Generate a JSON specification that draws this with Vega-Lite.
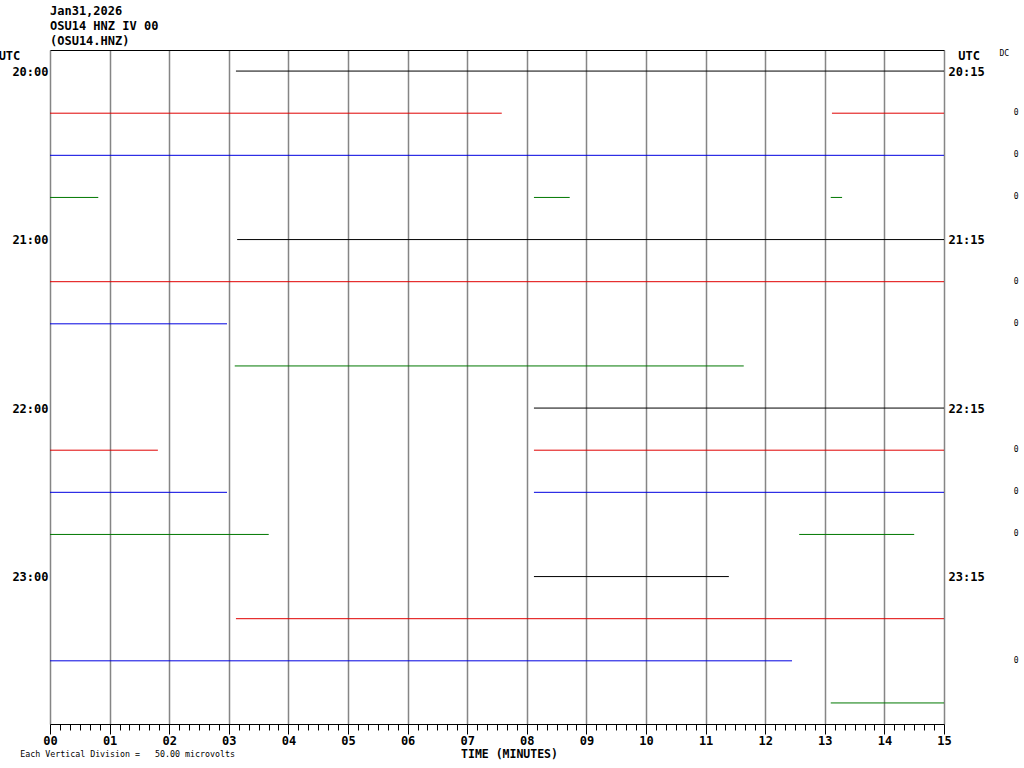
{
  "$schema": "https://vega.github.io/schema/vega-lite/v6.json",
  "autosize": {"type": "none"},
  "width": 894,
  "height": 674,
  "padding": {"left": 50, "top": 50, "right": 80, "bottom": 44},
  "background": "white",
  "config": {"view": {"stroke": null}, "font": "DejaVu Sans Mono"},
  "title": {
    "text": "Jan31,2026",
    "subtitle": ["OSU14 HNZ IV 00", "(OSU14.HNZ)"],
    "anchor": "start",
    "frame": "group",
    "font": "DejaVu Sans Mono",
    "fontSize": 12,
    "fontWeight": "bold",
    "color": "black",
    "subtitleFont": "DejaVu Sans Mono",
    "subtitleFontSize": 12,
    "subtitleFontWeight": "bold",
    "subtitleColor": "black",
    "subtitlePadding": 3,
    "subtitleLineHeight": 15,
    "lineHeight": 15,
    "offset": 2
  },
  "resolve": {"axis": {"x": "independent", "y": "independent"}},
  "layer": [
    {
      "data": {"values": [
        {"row": 0, "start": 3.12, "end": 15},
        {"row": 1, "start": 0, "end": 7.58},
        {"row": 1, "start": 13.12, "end": 15},
        {"row": 2, "start": 0, "end": 15},
        {"row": 3, "start": 0, "end": 0.81},
        {"row": 3, "start": 8.12, "end": 8.72},
        {"row": 3, "start": 13.1, "end": 13.29},
        {"row": 4, "start": 3.14, "end": 15},
        {"row": 5, "start": 0, "end": 15},
        {"row": 6, "start": 0, "end": 2.97},
        {"row": 7, "start": 3.1, "end": 11.64},
        {"row": 8, "start": 8.12, "end": 15},
        {"row": 9, "start": 0, "end": 1.81},
        {"row": 9, "start": 8.12, "end": 15},
        {"row": 10, "start": 0, "end": 2.97},
        {"row": 10, "start": 8.12, "end": 15},
        {"row": 11, "start": 0, "end": 3.67},
        {"row": 11, "start": 12.57, "end": 14.5},
        {"row": 12, "start": 8.12, "end": 11.39},
        {"row": 13, "start": 3.12, "end": 15},
        {"row": 14, "start": 0, "end": 12.45},
        {"row": 15, "start": 13.1, "end": 15}
      ]},
      "mark": {"type": "rule", "strokeWidth": 1},
      "encoding": {
        "x": {
          "field": "start", "type": "quantitative",
          "scale": {"domain": [0, 15], "nice": false, "zero": false},
          "axis": {
            "orient": "bottom",
            "title": "TIME (MINUTES)",
            "titleFont": "DejaVu Sans Mono",
            "titleFontSize": 11.5,
            "titleFontWeight": "bold",
            "titleColor": "black",
            "titleX": 459,
            "titleY": 30,
            "titleBaseline": "middle",
            "values": [0,0.1667,0.3333,0.5,0.6667,0.8333,1,1.1667,1.3333,1.5,1.6667,1.8333,2,2.1667,2.3333,2.5,2.6667,2.8333,3,3.1667,3.3333,3.5,3.6667,3.8333,4,4.1667,4.3333,4.5,4.6667,4.8333,5,5.1667,5.3333,5.5,5.6667,5.8333,6,6.1667,6.3333,6.5,6.6667,6.8333,7,7.1667,7.3333,7.5,7.6667,7.8333,8,8.1667,8.3333,8.5,8.6667,8.8333,9,9.1667,9.3333,9.5,9.6667,9.8333,10,10.1667,10.3333,10.5,10.6667,10.8333,11,11.1667,11.3333,11.5,11.6667,11.8333,12,12.1667,12.3333,12.5,12.6667,12.8333,13,13.1667,13.3333,13.5,13.6667,13.8333,14,14.1667,14.3333,14.5,14.6667,14.8333,15],
            "labelExpr": "abs(datum.value - round(datum.value)) < 0.001 ? (round(datum.value) < 10 ? '0' : '') + round(datum.value) : ''",
            "labelOverlap": false,
            "labelFlush": false,
            "labelBound": false,
            "labelFont": "DejaVu Sans Mono",
            "labelFontSize": 12,
            "labelFontWeight": "bold",
            "labelColor": "black",
            "labelPadding": 1,
            "domainColor": "black",
            "domainWidth": 1,
            "tickColor": "black",
            "tickWidth": 1,
            "tickSize": {"condition": {"test": "abs(datum.value - round(datum.value)) < 0.001", "value": 10}, "value": 6},
            "grid": true,
            "gridColor": "#858585",
            "gridWidth": 1.5,
            "gridOpacity": {"condition": {"test": "abs(datum.value - round(datum.value)) < 0.001", "value": 1}, "value": 0}
          }
        },
        "x2": {"field": "end"},
        "y": {
          "field": "row", "type": "quantitative",
          "scale": {"domain": [-0.5, 15.5], "reverse": true, "nice": false, "zero": false},
          "axis": {
            "orient": "left",
            "title": null,
            "values": [0, 4, 8, 12],
            "labelExpr": "(20 + datum.value / 4) + ':00'",
            "ticks": false,
            "domain": false,
            "grid": false,
            "labelFont": "DejaVu Sans Mono",
            "labelFontSize": 12,
            "labelFontWeight": "bold",
            "labelColor": "black",
            "labelPadding": 2,
            "labelFlush": false,
            "labelOverlap": false
          }
        },
        "color": {
          "field": "row", "type": "nominal", "legend": null,
          "scale": {
            "domain": [0,1,2,3,4,5,6,7,8,9,10,11,12,13,14,15],
            "range": ["black","#e00000","#0000e0","#007800","black","#e00000","#0000e0","#007800","black","#e00000","#0000e0","#007800","black","#e00000","#0000e0","#007800"]
          }
        }
      }
    },
    {
      "data": {"values": [
        {"row": 1, "x": 16.21, "label": "0"},
        {"row": 2, "x": 16.21, "label": "0"},
        {"row": 3, "x": 16.21, "label": "0"},
        {"row": 5, "x": 16.21, "label": "0"},
        {"row": 6, "x": 16.21, "label": "0"},
        {"row": 9, "x": 16.21, "label": "0"},
        {"row": 10, "x": 16.21, "label": "0"},
        {"row": 11, "x": 16.21, "label": "0"},
        {"row": 14, "x": 16.21, "label": "0"},
        {"row": -0.4, "x": 16.01, "label": "DC"}
      ]},
      "mark": {"type": "text", "font": "DejaVu Sans Mono", "fontSize": 8, "color": "black", "align": "center", "baseline": "middle"},
      "encoding": {
        "x": {"field": "x", "type": "quantitative", "axis": {"orient": "top", "title": null, "labels": false, "ticks": false, "grid": false, "domain": true, "domainColor": "black", "domainWidth": 1}},
        "y": {
          "field": "row", "type": "quantitative",
          "axis": {
            "orient": "right",
            "title": null,
            "values": [0, 4, 8, 12],
            "labelExpr": "(20 + datum.value / 4) + ':15'",
            "ticks": false,
            "domain": false,
            "grid": false,
            "labelFont": "DejaVu Sans Mono",
            "labelFontSize": 12,
            "labelFontWeight": "bold",
            "labelColor": "black",
            "labelPadding": 4,
            "labelFlush": false,
            "labelOverlap": false
          }
        },
        "text": {"field": "label"}
      }
    },
    {
      "data": {"values": [
        {"row": -0.36, "x": -0.68, "label": "UTC"},
        {"row": -0.36, "x": 15.42, "label": "UTC"}
      ]},
      "mark": {"type": "text", "font": "DejaVu Sans Mono", "fontSize": 12, "fontWeight": "bold", "color": "black", "align": "center", "baseline": "middle"},
      "encoding": {
        "x": {"field": "x", "type": "quantitative", "axis": null},
        "y": {"field": "row", "type": "quantitative", "axis": null},
        "text": {"field": "label"}
      }
    },
    {
      "data": {"values": [
        {"row": 16.24, "x": -0.5, "label": "Each Vertical Division =\u00a0\u00a0\u00a050.00 microvolts"}
      ]},
      "mark": {"type": "text", "font": "DejaVu Sans Mono", "fontSize": 8.3, "color": "black", "align": "left", "baseline": "middle"},
      "encoding": {
        "x": {"field": "x", "type": "quantitative", "axis": null},
        "y": {"field": "row", "type": "quantitative", "axis": null},
        "text": {"field": "label"}
      }
    }
  ]
}
